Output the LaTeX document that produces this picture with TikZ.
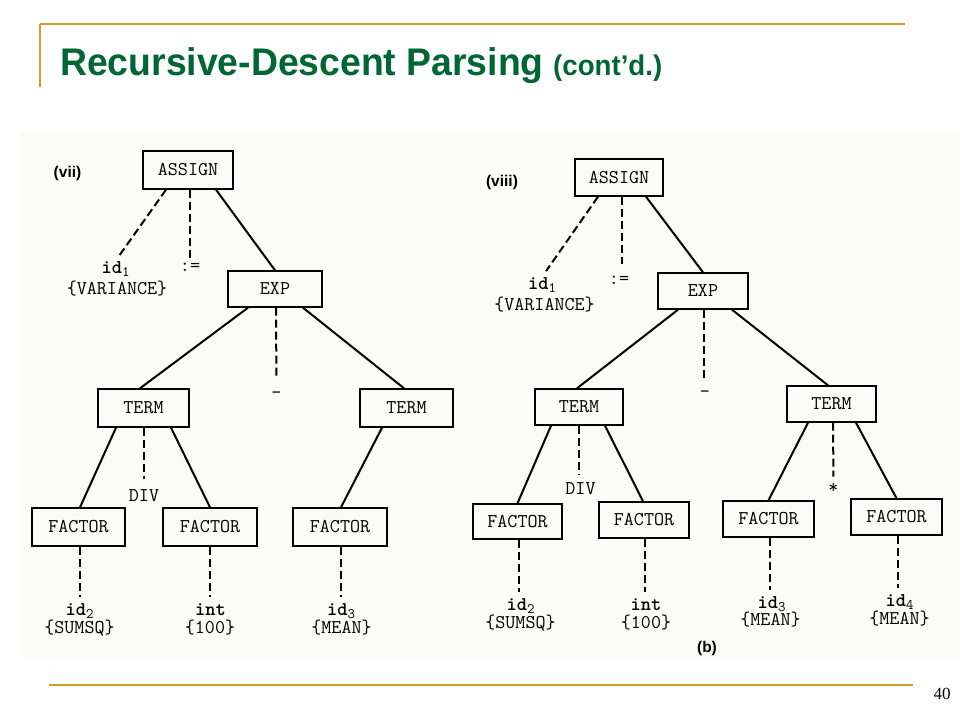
\documentclass[tikz,border=0pt]{standalone}
\usepackage{fontspec}
\usetikzlibrary{calc}
\newfontfamily\sansfam{Liberation Sans}
\newfontfamily\seriffam{Liberation Serif}
\definecolor{gold}{RGB}{204,160,32}
\definecolor{titlegreen}{RGB}{0,102,51}
\definecolor{scan}{RGB}{251,251,248}
\newcommand\monofnt{\ttfamily\fontsize{19.5}{20}\selectfont}
\newcommand\idsub[2]{{\bfseries #1}\smash{\raisebox{-3pt}{\fontsize{14.5}{14.5}\selectfont #2}}}
\begin{document}
\begin{tikzpicture}[x=1pt,y=-1pt,
  box/.style={draw, line width=1.4pt, inner sep=0pt, font=\monofnt},
  lbl/.style={inner sep=0pt, font=\monofnt},
  leaf/.style={inner sep=0pt, anchor=base, font=\monofnt},
  sline/.style={line width=2pt},
  dline/.style={line width=2pt, dash pattern=on 8pt off 4pt},
  goldline/.style={draw=gold, line width=2pt},
  tagtext/.style={inner sep=0pt, font=\sansfam\bfseries\fontsize{15.5}{16}\selectfont}]
\useasboundingbox (0,0) rectangle (960,720);
\fill[white] (0,0) rectangle (960,720);
\fill[scan] (20,132) rectangle (960,657);

% header and footer
\draw[goldline] (40,24) -- (905,24);
\draw[goldline] (40,24) -- (40,87);
\draw[goldline] (49,685) -- (913,685);
\node[anchor=base west, inner sep=0pt, text=titlegreen] (title) at (60,75)
  {\scalebox{0.97}[1]{\sansfam\bfseries\fontsize{38.5}{40}\selectfont Recursive-Descent Parsing}};
\node[anchor=base west, inner sep=0pt, text=titlegreen] (contd) at (553,75)
  {\scalebox{0.97}[1]{\sansfam\bfseries\fontsize{28.5}{30}\selectfont (cont’d.)}};
\node[inner sep=0pt, font=\seriffam\fontsize{17}{17}\selectfont] (pnum) at (942,694) {40};

% ================= left tree (vii) =================
\node[tagtext] (tagvii) at (67.5,173) {(vii)};
\node[box, minimum width=90, minimum height=38] (lassign) at (188,170) {ASSIGN};
\node[box, minimum width=94, minimum height=36] (lexp) at (275,289) {EXP};
\node[box, minimum width=91, minimum height=38] (lterm1) at (143.5,408) {TERM};
\node[box, minimum width=93, minimum height=38] (lterm2) at (406.5,408) {TERM};
\node[box, minimum width=93, minimum height=38] (lfac1) at (78.5,527) {FACTOR};
\node[box, minimum width=94, minimum height=38] (lfac2) at (210,527) {FACTOR};
\node[box, minimum width=94, minimum height=38] (lfac3) at (340,527) {FACTOR};

\node[leaf] (lid1) at (115.5,273) {\idsub{id}{1}};
\node[leaf] (lid1v) at (117,294.5) {\{VARIANCE\}};
\node[lbl] (lassop) at (190,267.5) {:=};
\node[lbl] (lminus) at (276.5,395) {-};
\node[lbl] (ldiv) at (144,495.5) {DIV};
\node[leaf] (lid2) at (79.5,615) {\idsub{id}{2}};
\node[leaf] (lid2v) at (79.5,633) {\{SUMSQ\}};
\node[leaf] (lint) at (210.5,615) {\bfseries int};
\node[leaf] (lintv) at (210,633) {\{100\}};
\node[leaf] (lid3) at (341,615) {\idsub{id}{3}};
\node[leaf] (lid3v) at (341.5,633) {\{MEAN\}};

\draw[dline, shorten >=7pt] ($(lassign.south)+(-22,0)$) -- (lid1.north);
\draw[dline, shorten >=5pt] ($(lassign.south)+(2,0)$) -- (lassop.north);
\draw[sline] ($(lassign.south)+(28,0)$) -- (lexp.north);
\draw[sline] ($(lexp.south)+(-27,0)$) -- ($(lterm1.north)+(-3.5,0)$);
\draw[dline, shorten >=12pt] ($(lexp.south)+(1,0)$) -- (lminus.north);
\draw[sline] ($(lexp.south)+(28,0)$) -- ($(lterm2.north)+(-2.5,0)$);
\draw[sline] ($(lterm1.south)+(-27.5,0)$) -- ($(lfac1.north)+(1.5,0)$);
\draw[dline, shorten >=10pt] ($(lterm1.south)+(0.5,0)$) -- (ldiv.north);
\draw[sline] ($(lterm1.south)+(27.5,0)$) -- (lfac2.north);
\draw[sline] ($(lterm2.south)+(-24.5,0)$) -- ($(lfac3.north)+(1,0)$);
\draw[dline, shorten >=6pt] ($(lfac1.south)+(1.5,0)$) -- ($(lid2.north)+(0.5,0)$);
\draw[dline, shorten >=6pt] (lfac2.south) -- ($(lint.north)+(-0.5,0)$);
\draw[dline, shorten >=6pt] ($(lfac3.south)+(1,0)$) -- (lid3.north);

% ================= right tree (viii) =================
\node[tagtext] (tagviii) at (502,182) {(viii)};
\node[box, minimum width=88, minimum height=37] (rassign) at (619,177.5) {ASSIGN};
\node[box, minimum width=90, minimum height=36] (rexp) at (703,291) {EXP};
\node[box, minimum width=88, minimum height=36] (rterm1) at (579,407) {TERM};
\node[box, minimum width=89, minimum height=36] (rterm2) at (831.5,404) {TERM};
\node[box, minimum width=89, minimum height=35] (rfac1) at (517.5,521.5) {FACTOR};
\node[box, minimum width=90, minimum height=36] (rfac2) at (644,520) {FACTOR};
\node[box, minimum width=91, minimum height=36] (rfac3) at (768.5,519) {FACTOR};
\node[box, minimum width=91, minimum height=36] (rfac4) at (896.5,517) {FACTOR};

\node[leaf] (rid1) at (542,289) {\idsub{id}{1}};
\node[leaf] (rid1v) at (544.5,310) {\{VARIANCE\}};
\node[lbl] (rassop) at (619,280) {:=};
\node[lbl] (rminus) at (705,394) {-};
\node[lbl] (rdiv) at (580.5,489) {DIV};
\node[lbl] (rstar) at (833.5,488) {*};
\node[leaf] (rid2) at (520.5,610) {\idsub{id}{2}};
\node[leaf] (rid2v) at (520.5,628) {\{SUMSQ\}};
\node[leaf] (rint) at (646,610) {\bfseries int};
\node[leaf] (rintv) at (646,628) {\{100\}};
\node[leaf] (rid3) at (771.5,608) {\idsub{id}{3}};
\node[leaf] (rid3v) at (770.5,625.5) {\{MEAN\}};
\node[leaf] (rid4) at (899.5,606.5) {\idsub{id}{4}};
\node[leaf] (rid4v) at (899.5,624) {\{MEAN\}};

\draw[dline, shorten >=7pt] ($(rassign.south)+(-21,0)$) -- (rid1.north);
\draw[dline, shorten >=12pt] ($(rassign.south)+(3,0)$) -- ($(rassop.north)+(3,0)$);
\draw[sline] ($(rassign.south)+(27,0)$) -- (rexp.north);
\draw[sline] ($(rexp.south)+(-25,0)$) -- ($(rterm1.north)+(-2,0)$);
\draw[dline, shorten >=12pt] ($(rexp.south)+(1,0)$) -- ($(rminus.north)+(-1,0)$);
\draw[sline] ($(rexp.south)+(29,0)$) -- ($(rterm2.north)+(-3.5,0)$);
\draw[sline] ($(rterm1.south)+(-28,0)$) -- (rfac1.north);
\draw[dline, shorten >=8pt] (rterm1.south) -- ($(rdiv.north)+(-1.5,0)$);
\draw[sline] ($(rterm1.south)+(26,0)$) -- ($(rfac2.north)+(-1,0)$);
\draw[sline] ($(rterm2.south)+(-23.5,0)$) -- (rfac3.north);
\draw[dline, shorten >=6pt] ($(rterm2.south)+(1.5,0)$) -- (rstar.north);
\draw[sline] ($(rterm2.south)+(24.5,0)$) -- (rfac4.north);
\draw[dline, shorten >=6pt] ($(rfac1.south)+(1.5,0)$) -- ($(rid2.north)+(-1.5,0)$);
\draw[dline, shorten >=6pt] ($(rfac2.south)+(1,0)$) -- ($(rint.north)+(-1,0)$);
\draw[dline, shorten >=6pt] ($(rfac3.south)+(1.5,0)$) -- ($(rid3.north)+(-1.5,0)$);
\draw[dline, shorten >=6pt] ($(rfac4.south)+(1.5,0)$) -- ($(rid4.north)+(-1.5,0)$);
\node[tagtext] (figb) at (707,648) {(b)};
\end{tikzpicture}
\end{document}
